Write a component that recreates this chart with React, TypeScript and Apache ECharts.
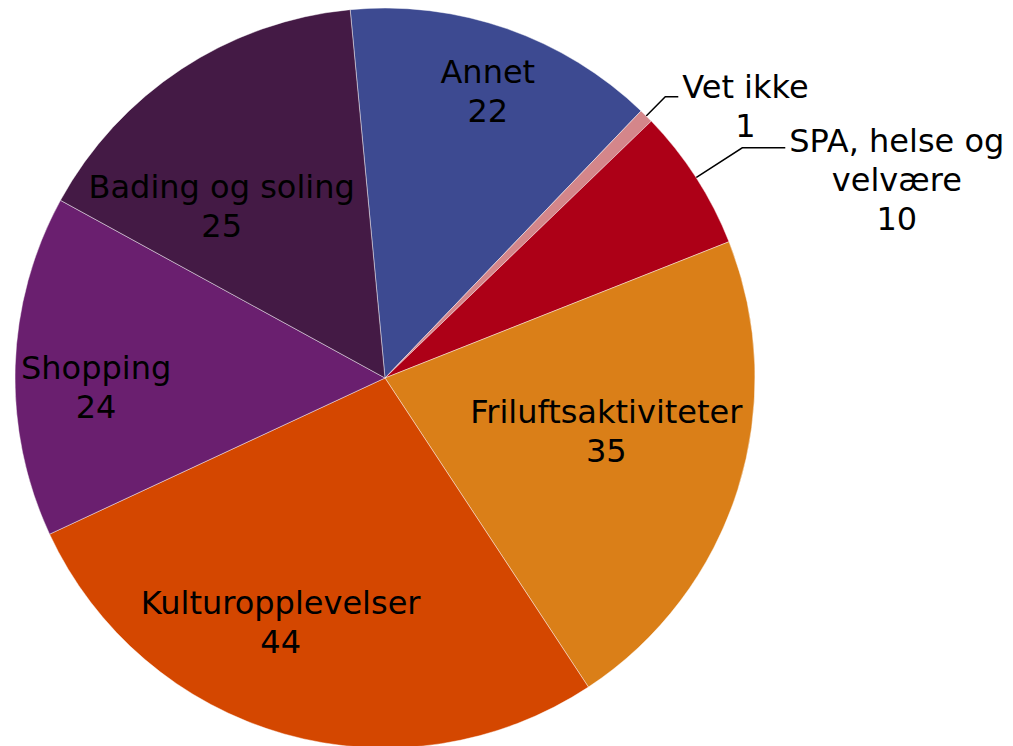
import React, { useEffect, useRef } from "react";
import * as echarts from "echarts";

const categories = [
  "Annet",
  "Vet ikke",
  "SPA, helse og velvære",
  "Friluftsaktiviteter",
  "Kulturopplevelser",
  "Shopping",
  "Bading og soling",
];
const labelTexts = [
  "Annet",
  "Vet ikke",
  "SPA, helse og\nvelvære",
  "Friluftsaktiviteter",
  "Kulturopplevelser",
  "Shopping",
  "Bading og soling",
];
const values = [22, 1, 10, 35, 44, 24, 25];
const colors = ["#3D4A91", "#D4868A", "#AD0017", "#DA7F18", "#D44700", "#6A1F6F", "#441A45"];
const outsideLabel = [false, true, true, false, false, false, false];
// label offsets relative to the default inside anchor (style only)
const labelShift: [number, number][] = [
  [41, -109],
  [0, 0],
  [0, 0],
  [42, -3],
  [-53, 64],
  [-101, 16],
  [-60, -14],
];
const lineLen = [0, 27, 55, 0, 0, 0, 0];
const lineLen2 = [0, 13, 43, 0, 0, 0, 0];
const padTop = [0, 20, 64, 0, 0, 0, 0];

export default function App() {
  const ref = useRef<HTMLDivElement>(null);
  useEffect(() => {
    if (!ref.current) return;
    const chart = echarts.init(ref.current, null, { renderer: "svg" });
    const font = "'DejaVu Sans', Verdana, sans-serif";
    chart.setOption({
      animation: false,
      series: [
        {
          type: "pie",
          center: [385, 378],
          radius: 370,
          startAngle: 95.4,
          clockwise: true,
          avoidLabelOverlap: false,
          emphasis: { disabled: true },
          itemStyle: { borderColor: "rgba(255,255,255,0.55)", borderWidth: 0.8 },
          label: {
            color: "#000",
            fontFamily: font,
            fontSize: 32,
            lineHeight: 39,
            distanceToLabelLine: 4,
            formatter: (p: any) => {
              const lines = labelTexts[p.dataIndex].split("\n");
              return [...lines, String(p.value)].map((l) => `{n|${l}}`).join("\n");
            },
            rich: {
              n: {
                align: "center",
                color: "#000",
                fontFamily: font,
                fontSize: 32,
                lineHeight: 39,
              },
            },
          },
          labelLine: {
            lineStyle: { color: "#000", width: 1.5 },
          },
          labelLayout: (params: any) => {
            const i = params.dataIndex;
            if (outsideLabel[i]) return {};
            return { dx: labelShift[i][0], dy: labelShift[i][1] };
          },
          data: categories.map((name, i) => ({
            name,
            value: values[i],
            itemStyle: { color: colors[i] },
            label: outsideLabel[i]
              ? { position: "outside", padding: [padTop[i], 0, 0, 0] }
              : { position: "inside" },
            labelLine: outsideLabel[i]
              ? { show: true, length: lineLen[i], length2: lineLen2[i] }
              : { show: false },
          })),
        },
      ],
    });
    return () => chart.dispose();
  }, []);
  return (
    <div
      ref={ref}
      style={{ position: "fixed", left: 0, top: 0, width: 1013, height: 746, background: "#fff" }}
    />
  );
}
